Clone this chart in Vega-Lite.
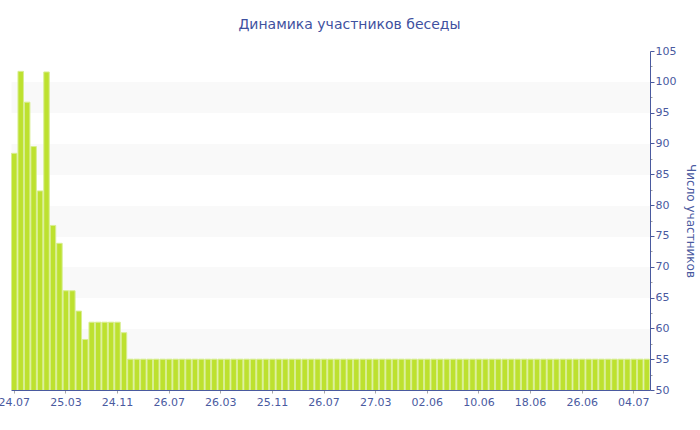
{
  "$schema": "https://vega.github.io/schema/vega-lite/v6.json",
  "width": 639,
  "height": 339,
  "autosize": {"type": "none"},
  "padding": {"left": 11, "top": 51, "right": 50, "bottom": 40},
  "background": "white",
  "title": {
    "text": "Динамика участников беседы",
    "font": "DejaVu Sans",
    "fontSize": 14,
    "fontWeight": "normal",
    "color": "#3f51a0",
    "anchor": "middle",
    "frame": "group",
    "baseline": "alphabetic",
    "dx": 19,
    "offset": 2
  },
  "config": {
    "view": {"stroke": null},
    "font": "DejaVu Sans"
  },
  "data": {
    "values": [
      {"date": "24.07.2013", "members": 88.4},
      {"date": "24.08.2013", "members": 101.7},
      {"date": "24.09.2013", "members": 96.7},
      {"date": "24.10.2013", "members": 89.5},
      {"date": "24.11.2013", "members": 82.3},
      {"date": "24.12.2013", "members": 101.6},
      {"date": "24.01.2014", "members": 76.7},
      {"date": "24.02.2014", "members": 73.8},
      {"date": "25.03.2014", "members": 66.1},
      {"date": "25.04.2014", "members": 66.1},
      {"date": "25.05.2014", "members": 62.8},
      {"date": "25.06.2014", "members": 58.2},
      {"date": "25.07.2014", "members": 61},
      {"date": "25.08.2014", "members": 61},
      {"date": "25.09.2014", "members": 61},
      {"date": "25.10.2014", "members": 61},
      {"date": "24.11.2014", "members": 61},
      {"date": "24.12.2014", "members": 59.3},
      {"date": "24.01.2015", "members": 55},
      {"date": "24.02.2015", "members": 55},
      {"date": "26.03.2015", "members": 55},
      {"date": "26.04.2015", "members": 55},
      {"date": "26.05.2015", "members": 55},
      {"date": "26.06.2015", "members": 55},
      {"date": "26.07.2015", "members": 55},
      {"date": "26.08.2015", "members": 55},
      {"date": "26.09.2015", "members": 55},
      {"date": "26.10.2015", "members": 55},
      {"date": "26.11.2015", "members": 55},
      {"date": "26.12.2015", "members": 55},
      {"date": "26.01.2016", "members": 55},
      {"date": "26.02.2016", "members": 55},
      {"date": "26.03.2016", "members": 55},
      {"date": "25.04.2016", "members": 55},
      {"date": "25.05.2016", "members": 55},
      {"date": "25.06.2016", "members": 55},
      {"date": "25.07.2016", "members": 55},
      {"date": "25.08.2016", "members": 55},
      {"date": "25.09.2016", "members": 55},
      {"date": "25.10.2016", "members": 55},
      {"date": "25.11.2016", "members": 55},
      {"date": "26.12.2016", "members": 55},
      {"date": "26.01.2017", "members": 55},
      {"date": "26.02.2017", "members": 55},
      {"date": "26.03.2017", "members": 55},
      {"date": "26.04.2017", "members": 55},
      {"date": "26.05.2017", "members": 55},
      {"date": "26.06.2017", "members": 55},
      {"date": "26.07.2017", "members": 55},
      {"date": "26.08.2017", "members": 55},
      {"date": "26.09.2017", "members": 55},
      {"date": "26.10.2017", "members": 55},
      {"date": "26.11.2017", "members": 55},
      {"date": "27.12.2017", "members": 55},
      {"date": "27.01.2018", "members": 55},
      {"date": "27.02.2018", "members": 55},
      {"date": "27.03.2018", "members": 55},
      {"date": "27.04.2018", "members": 55},
      {"date": "27.05.2018", "members": 55},
      {"date": "28.05.2018", "members": 55},
      {"date": "29.05.2018", "members": 55},
      {"date": "30.05.2018", "members": 55},
      {"date": "31.05.2018", "members": 55},
      {"date": "01.06.2018", "members": 55},
      {"date": "02.06.2018", "members": 55},
      {"date": "03.06.2018", "members": 55},
      {"date": "04.06.2018", "members": 55},
      {"date": "05.06.2018", "members": 55},
      {"date": "06.06.2018", "members": 55},
      {"date": "07.06.2018", "members": 55},
      {"date": "08.06.2018", "members": 55},
      {"date": "09.06.2018", "members": 55},
      {"date": "10.06.2018", "members": 55},
      {"date": "11.06.2018", "members": 55},
      {"date": "12.06.2018", "members": 55},
      {"date": "13.06.2018", "members": 55},
      {"date": "14.06.2018", "members": 55},
      {"date": "15.06.2018", "members": 55},
      {"date": "16.06.2018", "members": 55},
      {"date": "17.06.2018", "members": 55},
      {"date": "18.06.2018", "members": 55},
      {"date": "19.06.2018", "members": 55},
      {"date": "20.06.2018", "members": 55},
      {"date": "21.06.2018", "members": 55},
      {"date": "22.06.2018", "members": 55},
      {"date": "23.06.2018", "members": 55},
      {"date": "24.06.2018", "members": 55},
      {"date": "25.06.2018", "members": 55},
      {"date": "26.06.2018", "members": 55},
      {"date": "27.06.2018", "members": 55},
      {"date": "28.06.2018", "members": 55},
      {"date": "29.06.2018", "members": 55},
      {"date": "30.06.2018", "members": 55},
      {"date": "01.07.2018", "members": 55},
      {"date": "02.07.2018", "members": 55},
      {"date": "03.07.2018", "members": 55},
      {"date": "04.07.2018", "members": 55},
      {"date": "05.07.2018", "members": 55},
      {"date": "06.07.2018", "members": 55}
    ]
  },
  "mark": {
    "type": "bar",
    "color": "#bde12f",
    "stroke": "#d8ee92",
    "strokeWidth": 1,
    "clip": true
  },
  "encoding": {
    "x": {
      "field": "date",
      "type": "ordinal",
      "sort": null,
      "scale": {"paddingInner": 0.15, "paddingOuter": 0.08},
      "axis": {
        "title": null,
        "values": ["24.07.2013", "25.03.2014", "24.11.2014", "26.07.2015", "26.03.2016", "25.11.2016", "26.07.2017", "27.03.2018", "02.06.2018", "10.06.2018", "18.06.2018", "26.06.2018", "04.07.2018"],
        "labelExpr": "substring(datum.value, 0, 5)",
        "labelAngle": 0,
        "labelFont": "DejaVu Sans",
        "labelFontSize": 11,
        "labelColor": "#4a5a9f",
        "labelPadding": 3,
        "tickSize": 3,
        "tickColor": "#a8a8a8",
        "domainColor": "#4a5a9f",
        "grid": false
      }
    },
    "y": {
      "field": "members",
      "type": "quantitative",
      "scale": {"domain": [50, 105], "nice": false, "zero": false},
      "axis": {
        "orient": "right",
        "title": "Число участников",
        "titleFont": "DejaVu Sans",
        "titleFontSize": 12,
        "titleFontWeight": "normal",
        "titleColor": "#4a5a9f",
        "titleAngle": 90,
        "titlePadding": 8,
        "values": [50, 52.5, 55, 57.5, 60, 62.5, 65, 67.5, 70, 72.5, 75, 77.5, 80, 82.5, 85, 87.5, 90, 92.5, 95, 97.5, 100, 102.5, 105],
        "labelExpr": "datum.value % 5 === 0 ? datum.label : ''",
        "labelFont": "DejaVu Sans",
        "labelFontSize": 11,
        "labelColor": "#4a5a9f",
        "labelPadding": 1,
        "tickSize": {"condition": {"test": "datum.value % 5 === 0", "value": 4}, "value": 2},
        "tickColor": {"condition": {"test": "datum.value % 5 === 0", "value": "#4a5a9f"}, "value": "#a0a0a0"},
        "domainColor": "#4a5a9f",
        "grid": true,
        "gridColor": "#f9f9f9",
        "gridWidth": 30.85,
        "gridOpacity": {"condition": {"test": "(datum.value + 2.5) % 10 === 0", "value": 1}, "value": 0}
      }
    }
  }
}
